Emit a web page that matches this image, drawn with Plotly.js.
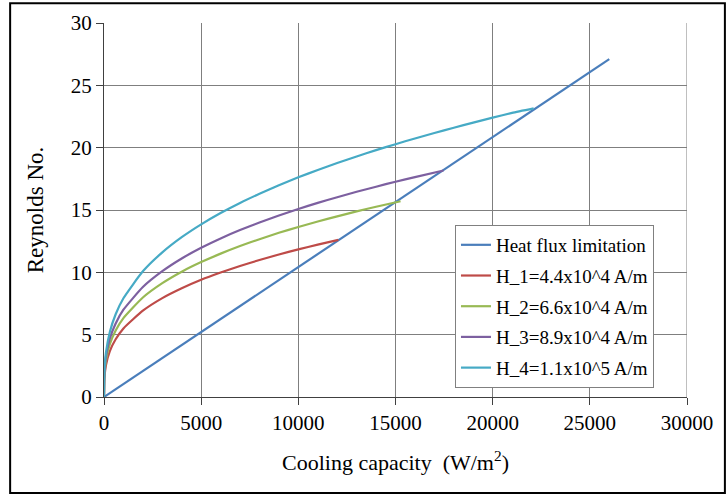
<!DOCTYPE html>
<html>
<head>
<meta charset="utf-8">
<script src="https://cdn.plot.ly/plotly-3.0.1.min.js"></script>
<style>html,body{margin:0;padding:0;background:#fff;}#chart{width:727px;height:496px;}</style>
</head>
<body>
<div id="chart"></div>
<script>
// Heat flux limitation (straight line)
const limitX = [0, 26000];
const limitY = [0, 27.1];

// H_1 = 4.4x10^4 A/m
const h1X = [0, 20, 100, 300, 600, 1000, 2000, 3000, 4000, 5000, 6000, 7000, 8000, 9000, 10000, 11000, 12060];
const h1Y = [0, 1.49, 2.55, 3.68, 4.63, 5.50, 6.92, 7.93, 8.72, 9.40, 9.98, 10.51, 10.99, 11.43, 11.84, 12.22, 12.6];

// H_2 = 6.6x10^4 A/m
const h2X = [0, 20, 100, 300, 600, 1000, 2000, 3000, 4000, 5000, 6000, 7000, 8000, 9000, 10000, 11000, 12000, 13000, 14000, 15260];
const h2Y = [0, 1.72, 2.94, 4.24, 5.34, 6.33, 7.98, 9.13, 10.05, 10.82, 11.50, 12.11, 12.66, 13.17, 13.64, 14.08, 14.49, 14.89, 15.26, 15.7];

// H_3 = 8.9x10^4 A/m
const h3X = [0, 20, 100, 300, 600, 1000, 2000, 3000, 4000, 5000, 6000, 7000, 8000, 9000, 10000, 11000, 12000, 13000, 14000, 15000, 16000, 17470];
const h3Y = [0, 1.90, 3.25, 4.69, 5.90, 7.00, 8.82, 10.09, 11.11, 11.97, 12.72, 13.39, 14.00, 14.56, 15.08, 15.57, 16.02, 16.46, 16.87, 17.27, 17.64, 18.17];

// H_4 = 1.1x10^5 A/m
const h4X = [0, 20, 100, 300, 600, 1000, 2000, 3000, 4000, 5000, 6000, 7000, 8000, 9000, 10000, 11000, 12000, 13000, 14000, 15000, 16000, 17000, 18000, 19000, 20000, 21000, 22110];
const h4Y = [0, 2.04, 3.56, 5.22, 6.64, 7.92, 10.08, 11.60, 12.82, 13.85, 14.76, 15.57, 16.30, 16.98, 17.62, 18.21, 18.77, 19.29, 19.80, 20.28, 20.74, 21.18, 21.60, 22.01, 22.41, 22.79, 23.15];

const names = ["Heat flux limitation", "H_1=4.4x10^4 A/m", "H_2=6.6x10^4 A/m", "H_3=8.9x10^4 A/m", "H_4=1.1x10^5 A/m"];
const colors = ["#4A7EBB", "#BE4B48", "#98B954", "#7D60A0", "#46AAC5"];
const xs = [limitX, h1X, h2X, h3X, h4X];
const ys = [limitY, h1Y, h2Y, h3Y, h4Y];

const serif = "Liberation Serif";

const traces = names.map((n, i) => ({
  x: xs[i], y: ys[i], name: n, type: "scatter", mode: "lines",
  line: {color: colors[i], width: 2.2, shape: i === 0 ? "linear" : "spline", smoothing: 0.5},
  legendgroup: "g" + i
}));

const layout = {
  width: 727, height: 496,
  margin: {l: 104, r: 40, t: 23, b: 99},
  paper_bgcolor: "#fff", plot_bgcolor: "#fff",
  font: {family: serif, size: 20, color: "#000"},
  showlegend: true,
  legend: {
    x: 0.602, y: 0.46, xanchor: "left", yanchor: "top",
    bgcolor: "#fff", bordercolor: "#808080", borderwidth: 1,
    font: {family: serif, size: 19, color: "#000"},
    tracegroupgap: 3
  },
  xaxis: {
    range: [0, 30000], tickvals: [0, 5000, 10000, 15000, 20000, 25000, 30000],
    ticktext: ["0", "5000", "10000", "15000", "20000", "25000", "30000"],
    showgrid: true, gridcolor: "#7f7f7f", gridwidth: 1,
    zeroline: false, showline: true, linecolor: "#404040", linewidth: 1,
    ticks: "outside", ticklen: 7, tickcolor: "#404040",
    tickfont: {family: serif, size: 21},
    title: {text: "Cooling capacity  (W/m<sup>2</sup>)", font: {family: serif, size: 22}, standoff: 20}
  },
  yaxis: {
    range: [0, 30], tickvals: [0, 5, 10, 15, 20, 25, 30],
    showgrid: true, gridcolor: "#7f7f7f", gridwidth: 1,
    zeroline: false, showline: true, linecolor: "#404040", linewidth: 1,
    ticks: "outside", ticklen: 7, tickcolor: "#404040",
    tickfont: {family: serif, size: 21},
    title: {text: "Reynolds No.", font: {family: serif, size: 23}, standoff: 20}
  },
  shapes: [
    {type: "line", xref: "x", yref: "paper", x0: 30000, x1: 30000, y0: 0, y1: 1, line: {color: "#7f7f7f", width: 1}},
    {type: "rect", xref: "paper", yref: "paper", x0: -0.161, x1: 1.065, y0: -0.257, y1: 1.053, line: {color: "#000", width: 2}, layer: "below"}
  ]
};

Plotly.newPlot("chart", traces, layout, {displayModeBar: false, staticPlot: true});
</script>
</body>
</html>
